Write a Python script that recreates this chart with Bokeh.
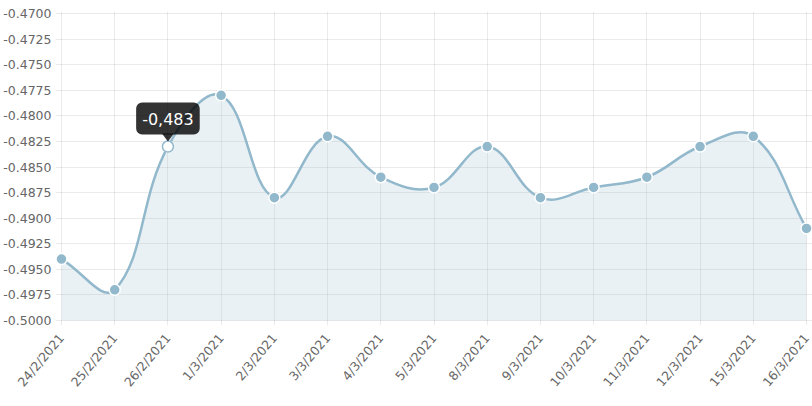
import numpy as np
from bokeh.embed import file_html
from bokeh.models import FixedTicker, Label, PrintfTickFormatter, Range1d
from bokeh.plotting import figure
from bokeh.resources import INLINE

# Data
dates = ["24/2/2021", "25/2/2021", "26/2/2021", "1/3/2021", "2/3/2021", "3/3/2021", "4/3/2021",
         "5/3/2021", "8/3/2021", "9/3/2021", "10/3/2021", "11/3/2021", "12/3/2021", "15/3/2021",
         "16/3/2021"]
values = [-0.494, -0.497, -0.483, -0.478, -0.488, -0.482, -0.486,
          -0.487, -0.483, -0.488, -0.487, -0.486, -0.483, -0.482,
          -0.491]
y_ticks = [-0.5, -0.4975, -0.495, -0.4925, -0.49, -0.4875, -0.485,
           -0.4825, -0.48, -0.4775, -0.475, -0.4725, -0.47]
hover_idx = 2  # point with the tooltip

LINE = "#92b8cc"
FONT = "DejaVu Sans"

W, H = 812, 406
B_LEFT, B_TOP, B_BOTTOM = 55, 11, 81
Y_LO, Y_HI = min(y_ticks), max(y_ticks)
n = len(values)

frame_w = W - B_LEFT
frame_h = H - B_TOP - B_BOTTOM
# pixel scales: points 6px inside the frame sideways, -0.47 at 2px below top, -0.5 5px above bottom
sx = (frame_w - 12) / (n - 1)
sy = (frame_h - 7) / (Y_HI - Y_LO)
x_pad = 6 / sx

p = figure(
    width=W, height=H,
    x_range=Range1d(-x_pad, n - 1 + x_pad),
    y_range=Range1d(Y_LO - 5 / sy, Y_HI + 2 / sy),
    output_backend="svg", toolbar_location=None, tools="",
    min_border_left=B_LEFT, min_border_right=0, min_border_top=B_TOP, min_border_bottom=B_BOTTOM,
)
p.outline_line_color = None
p.background_fill_color = "white"

# Chart.js-like spline, tension 0.4, control points worked out in pixel space
xs = np.arange(n, dtype=float)
ys = np.array(values)
px, py = xs * sx, ys * sy
T = 0.4
cpp = np.zeros((n, 2))
cpn = np.zeros((n, 2))
for i in range(n):
    a, b = max(i - 1, 0), min(i + 1, n - 1)
    d01 = np.hypot(px[i] - px[a], py[i] - py[a])
    d12 = np.hypot(px[b] - px[i], py[b] - py[i])
    s01 = d01 / (d01 + d12)
    s12 = d12 / (d01 + d12)
    dx, dy = px[b] - px[a], py[b] - py[a]
    cpp[i] = (px[i] - T * s01 * dx, py[i] - T * s01 * dy)
    cpn[i] = (px[i] + T * s12 * dx, py[i] + T * s12 * dy)
for c in (cpp, cpn):
    c[:, 0] = np.clip(c[:, 0] / sx, 0, n - 1)
    c[:, 1] = np.clip(c[:, 1] / sy, Y_LO, Y_HI)

# fill under the curve (sampled from the same bezier segments)
t = np.linspace(0, 1, 24)[:, None]
fx, fy = [], []
for i in range(n - 1):
    p0 = np.array([xs[i], ys[i]])
    p3 = np.array([xs[i + 1], ys[i + 1]])
    c0, c1 = cpn[i], cpp[i + 1]
    seg = (1 - t) ** 3 * p0 + 3 * (1 - t) ** 2 * t * c0 + 3 * (1 - t) * t ** 2 * c1 + t ** 3 * p3
    fx.extend(seg[:, 0])
    fy.extend(seg[:, 1])
p.varea(x=fx, y1=Y_LO, y2=fy, fill_color=LINE, fill_alpha=0.2)

p.bezier(x0=xs[:-1], y0=ys[:-1], x1=xs[1:], y1=ys[1:],
         cx0=cpn[:-1, 0], cy0=cpn[:-1, 1], cx1=cpp[1:, 0], cy1=cpp[1:, 1],
         line_color=LINE, line_width=2.5)

p.scatter(xs, ys, size=11, fill_color=LINE, line_color="white", line_width=1.5)
p.scatter([xs[hover_idx]], [ys[hover_idx]], size=11, fill_color="white",
          line_color=LINE, line_width=1.5)

# tooltip: caret and box above the hovered point
hx, hy = xs[hover_idx], ys[hover_idx]
p.patch(x=[hx - 6 / sx, hx + 6 / sx, hx], y=[hy + 13 / sy, hy + 13 / sy, hy + 5 / sy],
        fill_color="black", fill_alpha=0.8, line_color=None)
tip = Label(x=hx, y=hy, y_offset=28,
            text=f"{values[hover_idx]:.3f}".replace(".", ","),
            text_align="center", text_baseline="middle",
            text_color="white", text_font=FONT, text_font_size="16px",
            background_fill_color="black", background_fill_alpha=0.8,
            border_radius=6, padding=(6, 10))
p.add_layout(tip)

# axes
p.xaxis.ticker = FixedTicker(ticks=list(range(n)))
p.xaxis.major_label_overrides = {i: d for i, d in enumerate(dates)}
p.xaxis.major_label_orientation = np.deg2rad(50)
p.yaxis.ticker = FixedTicker(ticks=y_ticks)
p.yaxis.formatter = PrintfTickFormatter(format="%.4f")
for ax in (p.xaxis, p.yaxis):
    ax.axis_line_color = None
    ax.major_tick_out = 0
    ax.major_tick_in = 0
    ax.minor_tick_line_color = None
    ax.major_label_text_color = "#666666"
    ax.major_label_text_font = FONT
    ax.major_label_text_font_size = "12.5px"
p.yaxis.major_label_standoff = 4
p.xaxis.major_label_standoff = 10

p.xgrid.ticker = FixedTicker(ticks=list(range(n)))
p.ygrid.ticker = FixedTicker(ticks=y_ticks)
p.grid.grid_line_color = "black"
p.grid.grid_line_alpha = 0.08

open("out.html", "w").write(file_html(p, INLINE))
